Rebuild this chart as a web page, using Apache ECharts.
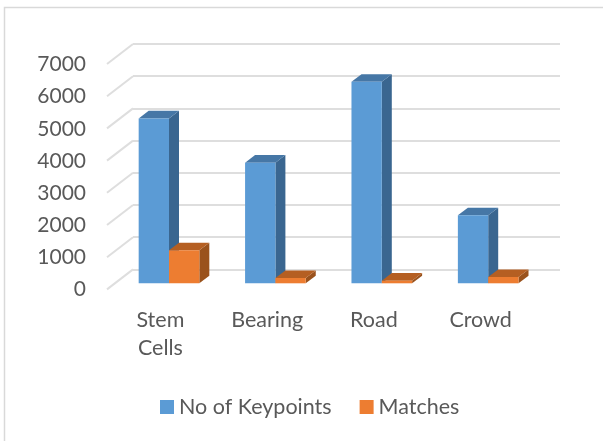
<!DOCTYPE html>
<html>
<head>
<meta charset="utf-8">
<style>html,body{margin:0;padding:0;background:#fff}#chart{width:603px;height:441px}</style>
<script src="https://cdn.jsdelivr.net/npm/echarts@6/dist/echarts.min.js"></script>
</head>
<body>
<div id="chart"></div>
<script>
const categories = ['Stem\nCells', 'Bearing', 'Road', 'Crowd'];
const keypoints = [5120, 3745, 6260, 2110];
const matches = [1025, 165, 80, 195];
const yTicks = [0, 1000, 2000, 3000, 4000, 5000, 6000, 7000];

const FONT = 'Lato';
const TEXT = '#595959';
const GRID_LINE = '#dedede';
const BAR_SHARE = 0.285;
const DEPTH = [10, -7.6];

// Box with a lit front, a shaded top and a darker side face.
function boxItem(slot, front, top, side) {
  return function (params, api) {
    const base = api.coord([api.value(0), 0]);
    const head = api.coord([api.value(0), api.value(1)]);
    const w = api.size([1, 0])[0] * BAR_SHARE;
    const x0 = base[0] + slot * w, x1 = x0 + w;
    const y0 = base[1], y1 = head[1];
    const [dx, dy] = DEPTH;
    return {
      type: 'group',
      children: [
        { type: 'polygon', shape: { points: [[x1, y1], [x1 + dx, y1 + dy], [x1 + dx, y0 + dy], [x1, y0]] }, style: { fill: side } },
        { type: 'polygon', shape: { points: [[x0, y1], [x0 + dx, y1 + dy], [x1 + dx, y1 + dy], [x1, y1]] }, style: { fill: top } },
        { type: 'rect', shape: { x: x0, y: y1, width: w, height: y0 - y1 }, style: { fill: front } }
      ]
    };
  };
}

// Slanted strokes running from the left end of each wall gridline towards the labels.
function wallEdge(params, api) {
  const p = api.coord([0, api.value(1)]);
  const left = p[0] - api.size([1, 0])[0] / 2;
  return {
    type: 'line',
    shape: { x1: left, y1: p[1], x2: left - 26, y2: p[1] + 20 },
    style: { stroke: GRID_LINE, lineWidth: 2 }
  };
}

const chart = echarts.init(document.getElementById('chart'), null, { renderer: 'canvas' });
chart.setOption({
  animation: false,
  backgroundColor: '#fff',
  graphic: [{
    type: 'rect', silent: true, z: -1,
    shape: { x: 4.5, y: 7.5, width: 620, height: 460 },
    style: { fill: '#fff', stroke: '#d9d9d9', lineWidth: 1.5 }
  }],
  grid: [
    { left: 133, width: 427, top: 44, height: 225.4 },
    { left: 115.8, width: 425.6, top: 57.9, height: 225.4 },
    { left: 107, width: 427, top: 64.5, height: 225 }
  ],
  xAxis: [
    { gridIndex: 0, type: 'category', data: categories, show: false },
    { gridIndex: 1, type: 'category', data: categories, show: false },
    {
      gridIndex: 2, type: 'category', data: categories,
      axisLine: { show: false }, axisTick: { show: false },
      axisLabel: { color: TEXT, fontFamily: FONT, fontSize: 21.5, margin: 17, lineHeight: 28 }
    }
  ],
  yAxis: [
    {
      gridIndex: 0, type: 'value', min: 0, max: 7000, interval: 1000,
      axisLine: { show: false }, axisTick: { show: false }, axisLabel: { show: false },
      splitLine: { lineStyle: { color: GRID_LINE, width: 2 } }
    },
    { gridIndex: 1, type: 'value', min: 0, max: 7000, interval: 1000, show: false, splitLine: { show: false } },
    {
      gridIndex: 2, type: 'value', min: 0, max: 7000, interval: 1000,
      axisLine: { show: false }, axisTick: { show: false }, splitLine: { show: false },
      axisLabel: { color: TEXT, fontFamily: FONT, fontSize: 21, margin: 21, formatter: v => String(v) }
    }
  ],
  legend: {
    left: 155, top: 391, itemWidth: 14, itemHeight: 14, itemGap: 28,
    icon: 'rect',
    textStyle: { color: TEXT, fontFamily: FONT, fontSize: 21.5 },
    data: [
      { name: 'No of Keypoints', itemStyle: { color: '#5B9BD5' } },
      { name: 'Matches', itemStyle: { color: '#ED7D31' } }
    ]
  },
  series: [
    {
      type: 'custom', name: 'wall', xAxisIndex: 0, yAxisIndex: 0, silent: true, clip: false,
      encode: { x: 0, y: 1 }, data: yTicks.map(v => [0, v]), renderItem: wallEdge
    },
    {
      type: 'custom', name: 'No of Keypoints', xAxisIndex: 1, yAxisIndex: 1, clip: false, z: 3,
      encode: { x: 0, y: 1 }, itemStyle: { color: '#5B9BD5' },
      data: keypoints.map((v, i) => [i, v]),
      renderItem: boxItem(-1, '#5B9BD5', '#4677A6', '#3A6690')
    },
    {
      type: 'custom', name: 'Matches', xAxisIndex: 1, yAxisIndex: 1, clip: false, z: 4,
      encode: { x: 0, y: 1 }, itemStyle: { color: '#ED7D31' },
      data: matches.map((v, i) => [i, v]),
      renderItem: boxItem(0, '#ED7D31', '#B55F22', '#9A521C')
    }
  ]
});
</script>
</body>
</html>
